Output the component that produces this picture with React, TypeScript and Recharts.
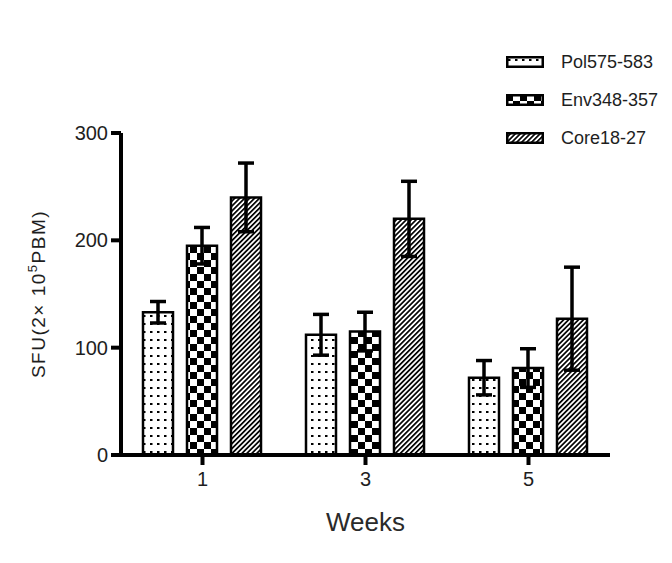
import React from 'react';
import { BarChart, Bar, XAxis, YAxis, ErrorBar } from 'recharts';

const weeks = ['1', '3', '5'];
const polValues = [133, 112, 72];
const polErrors = [10, 19, 16];
const envValues = [195, 115, 81];
const envErrors = [17, 18, 18];
const coreValues = [240, 220, 127];
const coreErrors = [32, 35, 48];
const yTicks = [0, 100, 200, 300];

const seriesNames = ['Pol575-583', 'Env348-357', 'Core18-27'];
const seriesKeys = ['pol', 'env', 'core'];
const seriesFills = ['url(#dots)', 'url(#checks)', 'url(#hatch)'];

const data = weeks.map((week, i) => ({
    week,
    pol: polValues[i],
    polErr: polErrors[i],
    env: envValues[i],
    envErr: envErrors[i],
    core: coreValues[i],
    coreErr: coreErrors[i],
}));

const font = '"Liberation Sans", Arial, sans-serif';
const textColor = '#1e1e1e';

// pattern fills, shared by the bars and the legend swatches
const Patterns = () => (
    <svg width={0} height={0} style={{ position: 'absolute' }}>
        <defs>
            <pattern id="dots" width={7} height={8} patternUnits="userSpaceOnUse">
                <rect width={7} height={8} fill="#fff" />
                <rect x={2} y={3} width={2.5} height={2} fill="#000" />
            </pattern>
            <pattern id="checks" width={14} height={14} patternUnits="userSpaceOnUse">
                <rect width={14} height={14} fill="#fff" />
                <rect x={0} y={0} width={7} height={7} fill="#000" />
                <rect x={7} y={7} width={7} height={7} fill="#000" />
            </pattern>
            <pattern id="hatch" width={3.5} height={6} patternUnits="userSpaceOnUse" patternTransform="rotate(45)">
                <rect width={3.5} height={6} fill="#fff" />
                <rect x={0} y={0} width={1.7} height={6} fill="#000" />
            </pattern>
        </defs>
    </svg>
);

const YLabel = (props: any) => {
    const { viewBox } = props;
    const x = viewBox.x - 16;
    const y = viewBox.y + viewBox.height / 2;
    return (
        <text x={x} y={y} transform={`rotate(-90, ${x}, ${y})`} textAnchor="middle"
            fontFamily={font} fontSize={19} letterSpacing={1.5} fill={textColor}>
            SFU(2× 10<tspan dy={-8} fontSize={13}>5</tspan><tspan dy={8}>PBM)</tspan>
        </text>
    );
};

const XLabel = (props: any) => {
    const { viewBox } = props;
    return (
        <text x={viewBox.x + viewBox.width / 2} y={viewBox.y + 76} textAnchor="middle"
            fontFamily={font} fontSize={26} fill="#2a2a2a">
            Weeks
        </text>
    );
};

const App = () => {
    return (
        <div style={{ position: 'relative', width: 656, height: 547 }}>
            <Patterns />
            <BarChart width={656} height={547} data={data}
                margin={{ top: 125, right: 54, bottom: 20, left: 53 }}
                barCategoryGap={22} barGap={14}>
                <XAxis dataKey="week" height={80} tickSize={10} tickMargin={7}
                    axisLine={{ stroke: '#000', strokeWidth: 4 }}
                    tickLine={{ stroke: '#000', strokeWidth: 4 }}
                    tick={{ fontSize: 20, fill: textColor, fontFamily: font }}
                    label={<XLabel />} />
                <YAxis domain={[0, 300]} ticks={yTicks} width={60} tickSize={10} tickMargin={3}
                    axisLine={{ stroke: '#000', strokeWidth: 4 }}
                    tickLine={{ stroke: '#000', strokeWidth: 4 }}
                    tick={{ fontSize: 20, fill: textColor, fontFamily: font }}
                    label={<YLabel />} />
                {seriesKeys.map((key, i) => (
                    <Bar key={key} dataKey={key} name={seriesNames[i]} fill={seriesFills[i]}
                        stroke="#000" strokeWidth={2.5} isAnimationActive={false}>
                        <ErrorBar dataKey={key + 'Err'} direction="y" width={8} stroke="#000" strokeWidth={3.5} />
                    </Bar>
                ))}
            </BarChart>
            <div style={{ position: 'absolute', left: 498, top: 35, fontFamily: font, whiteSpace: 'nowrap' }}>
                {seriesNames.map((name, i) => (
                    <div key={name} style={{ display: 'flex', alignItems: 'center', height: 38 }}>
                        <svg width={38} height={12} style={{ marginRight: 17 }}>
                            <rect x={1.25} y={1.25} width={35.5} height={9.5} fill={seriesFills[i]} stroke="#000" strokeWidth={2.5} />
                        </svg>
                        <span style={{ fontSize: 18, color: textColor }}>{name}</span>
                    </div>
                ))}
            </div>
        </div>
    );
};

export default App;
